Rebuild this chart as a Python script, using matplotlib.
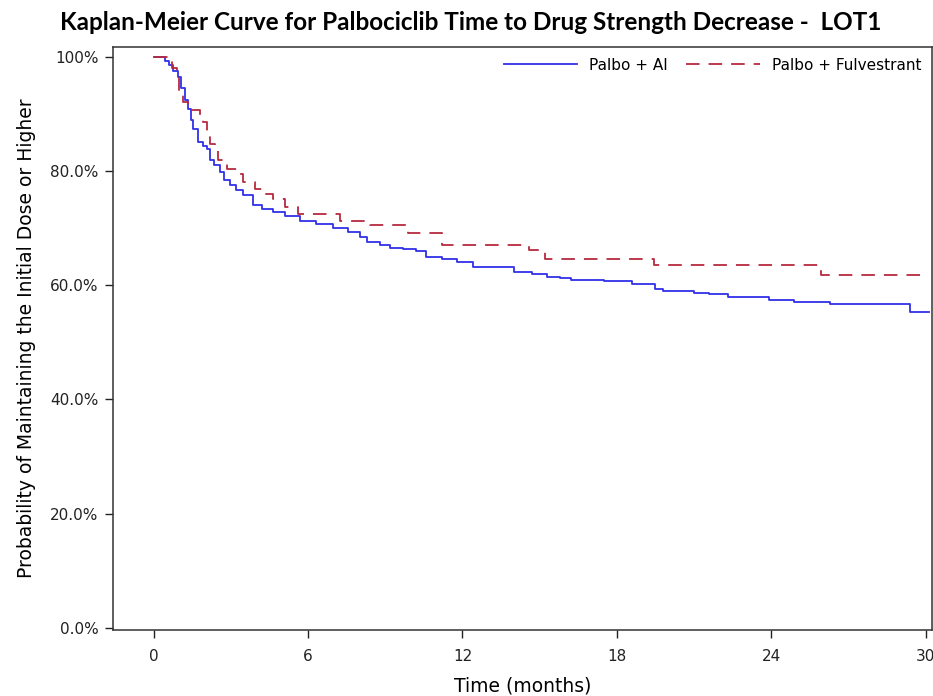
import matplotlib
matplotlib.use("Agg")
import matplotlib.pyplot as plt
from matplotlib.ticker import FuncFormatter

# Kaplan-Meier steps (months, % still at initial dose)
ai_t = [0, 0.43, 0.6, 0.75, 0.93, 1.05, 1.2, 1.32, 1.45, 1.52, 1.71, 1.9, 2.06,
        2.18, 2.35, 2.57, 2.75, 2.96, 3.2, 3.46, 3.85, 4.2, 4.63, 5.1, 5.68,
        6.3, 6.96, 7.55, 8.0, 8.29, 8.8, 9.18, 9.7, 10.2, 10.6, 11.2, 11.8,
        12.4, 14.0, 14.7, 15.3, 15.8, 16.2, 17.5, 18.6, 19.5, 19.8, 21.0,
        21.6, 22.3, 23.9, 24.9, 26.3, 29.4, 30.15]
ai_s = [100, 99.3, 98.5, 97.5, 96.5, 94.5, 92.5, 90.8, 89.0, 87.3, 85.0, 84.3,
        83.8, 82.0, 81.0, 79.8, 78.5, 77.5, 76.6, 75.8, 74.0, 73.4, 72.8, 72.2,
        71.3, 70.8, 70.1, 69.3, 68.5, 67.6, 67.1, 66.6, 66.3, 66.0, 65.0, 64.6,
        64.1, 63.2, 62.4, 62.0, 61.5, 61.2, 61.0, 60.8, 60.3, 59.4, 59.0, 58.7,
        58.4, 58.0, 57.5, 57.1, 56.8, 55.4, 55.4]

fulv_t = [0, 0.55, 0.7, 0.9, 1.0, 1.15, 1.32, 1.79, 1.9, 2.06, 2.18, 2.37, 2.5,
          2.84, 3.23, 3.46, 3.93, 4.2, 4.63, 5.1, 5.6, 7.24, 8.4, 9.9, 11.2,
          14.6, 15.2, 19.45, 25.95, 30.0]
fulv_s = [100, 99.0, 98.0, 96.7, 93.7, 92.0, 90.6, 89.5, 88.5, 86.8, 84.7, 83.8,
          82.0, 80.3, 79.4, 78.0, 76.8, 76.0, 75.1, 73.7, 72.4, 71.3, 70.6, 69.2,
          67.1, 66.2, 64.6, 63.6, 61.8, 61.8]

x_ticks = [0, 6, 12, 18, 24, 30]
y_ticks = [0, 20, 40, 60, 80, 100]

fig = plt.figure(figsize=(9.33, 6.96), dpi=100)
ax = fig.add_axes([0.1206, 0.0948, 0.8784, 0.8377])

ax.step(ai_t, ai_s, where="post", color="#3030e8", lw=1.3, label="Palbo + AI")
ax.step(fulv_t, fulv_s, where="post", color="#b52a3e", lw=1.3,
        dashes=(7.5, 5), label="Palbo + Fulvestrant")

ax.set_xlim(-1.6, 30.25)
ax.set_ylim(-0.35, 101.7)
ax.set_xticks(x_ticks)
ax.set_yticks(y_ticks)
ax.yaxis.set_major_formatter(FuncFormatter(lambda v, p: "100%" if v == 100 else f"{v:.1f}%"))
ax.tick_params(direction="out", length=6, width=1, labelsize=11, colors="#222222",
               pad=4)
ax.tick_params(axis="x", pad=8)
for sp in ax.spines.values():
    sp.set_linewidth(1.1)
    sp.set_color("#333333")

ax.set_xlabel("Time (months)", fontsize=13.5, labelpad=9)
ax.set_ylabel("Probability of Maintaining the Initial Dose or Higher", fontsize=13.5,
              labelpad=10)
fig.text(0.064, 0.967, "Kaplan-Meier Curve for Palbociclib Time to Drug Strength Decrease -  LOT1",
         fontsize=17.5, fontweight="bold", family="Lato", va="center")

ax.legend(loc="upper right", ncol=2, frameon=False, fontsize=11,
          handlelength=4.8, columnspacing=1.2, borderaxespad=0.3)

fig.savefig("out.png", dpi=100)
